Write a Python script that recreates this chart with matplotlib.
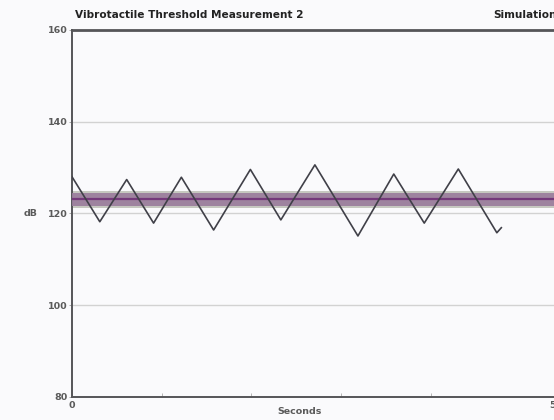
import matplotlib.pyplot as plt

# threshold track: turning points of the staircase (seconds, dB)
t_sec = [0.0, 3.1, 6.1, 9.1, 12.2, 15.8, 19.9, 23.3, 27.1, 31.9,
         35.9, 39.3, 43.1, 47.4, 47.9]
level_db = [128.0, 118.2, 127.4, 117.9, 127.9, 116.4, 129.6, 118.6, 130.6,
            115.1, 128.6, 117.9, 129.7, 115.8, 116.9]

threshold_db = 123.1
band_inner = (121.7, 124.4)
band_outer = (121.1, 124.9)

y_ticks = [80, 100, 120, 140, 160]
x_end = 54

plt.rcParams["font.family"] = ["DejaVu Sans"]

fig = plt.figure(figsize=(5.54, 4.2), dpi=100, facecolor="#fafafc")
ax = fig.add_axes([0.130, 0.0548, 0.8736, 0.8738], facecolor="#fafafc")

ax.set_xlim(0, x_end)
ax.set_ylim(80, 160)

for y in [100, 120, 140]:
    ax.axhline(y, color="#d2d2d2", lw=1.0, zorder=1)

ax.axhspan(*band_outer, color="#b9bcb2", alpha=0.8, lw=0, zorder=2)
ax.axhspan(*band_inner, color="#9a7c9c", alpha=0.9, lw=0, zorder=3)
ax.axhline(threshold_db, color="#74397a", lw=1.6, zorder=4)

ax.plot(t_sec, level_db, color="#404048", lw=1.2, zorder=5)

for side in ["left", "top", "bottom"]:
    ax.spines[side].set_color("#555558")
ax.spines["left"].set_linewidth(1.4)
ax.spines["top"].set_linewidth(2.0)
ax.spines["bottom"].set_linewidth(1.4)
ax.spines["right"].set_visible(False)

lbl = dict(fontsize=6.8, fontweight="bold", color="#5a5a5a")

ax.set_yticks(y_ticks)
ax.set_yticklabels([str(v) for v in y_ticks], **lbl)
ax.tick_params(axis="y", length=2, width=0.6, color="#999999", pad=1)

ax.set_xticks(range(0, 50, 10))
ax.set_xticklabels([""] * 5)
ax.tick_params(axis="x", direction="in", length=3, width=0.6, color="#aaaaaa")
ax.text(0, -0.012, "0", transform=ax.transAxes, ha="center", va="top", **lbl)
ax.text(1.0, -0.012, str(x_end), transform=ax.transAxes, ha="center",
        va="top", **lbl)

fig.text(300 / 554, 1 - 411 / 420, "Seconds", ha="center", va="center", **lbl)
fig.text(38 / 554, 1 - 214 / 420, "dB", ha="right", va="center", **lbl)

fig.text(75 / 554, 1 - 15 / 420, "Vibrotactile Threshold Measurement 2",
         ha="left", va="center", fontsize=7.6, fontweight="bold",
         color="#222222")
fig.text(493 / 554, 1 - 15 / 420, "Simulation", ha="left", va="center",
         fontsize=7.6, fontweight="bold", color="#222222")

fig.savefig("out.png", dpi=100, facecolor=fig.get_facecolor())
